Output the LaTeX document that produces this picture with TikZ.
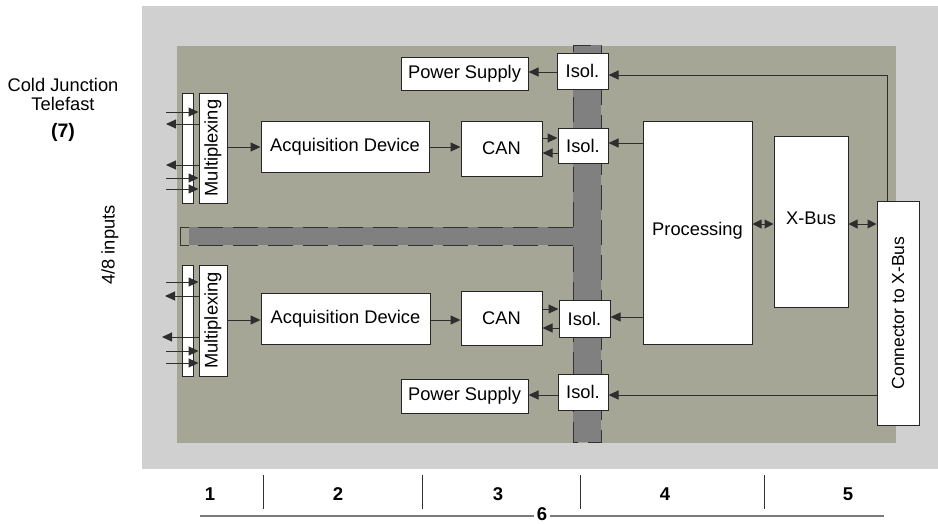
\documentclass[tikz,border=0pt]{standalone}
\usepackage{fontspec}
\setmainfont{Liberation Sans}
\usepackage{graphicx}
\usetikzlibrary{arrows.meta}
\definecolor{outerbg}{HTML}{D0D0D0}
\definecolor{innerbg}{HTML}{A6A697}
\definecolor{barrier}{HTML}{808080}
\definecolor{wire}{HTML}{2E2E2E}
\definecolor{rulegray}{HTML}{7A7A7A}
\begin{document}
\begin{tikzpicture}[x=1pt,y={(0pt,-1pt)},
  font=\fontsize{18.3pt}{21pt}\selectfont,
  blk/.style={draw=black!85,line width=1pt,fill=white,inner sep=0pt,align=center},
  wsz/.style 2 args={minimum width=#1pt,minimum height=#2pt},
  arr/.style={draw=wire,line width=1pt,-{Triangle[length=10pt,width=9pt]}},
  darr/.style={draw=wire,line width=1pt,{Triangle[length=9pt,width=9pt]}-{Triangle[length=9pt,width=9pt]}},
  barrierline/.style={draw=black!80,line width=1pt,dash pattern=on 25pt off 10pt},
  num/.style={font=\bfseries\fontsize{18.5pt}{21pt}\selectfont,inner sep=1pt},
  sepline/.style={draw=black!80,line width=1pt}]

\useasboundingbox (0,0) rectangle (938,523);
\fill[white] (0,0) rectangle (938,523);
\fill[outerbg] (142,6) rectangle (938,469);
\fill[innerbg] (177,46) rectangle (896,443);

% isolation barrier
\fill[barrier] (189,227) rectangle (573,245);
\fill[barrier] (573,45) rectangle (601,442);
\draw[barrierline] (573,227) -- (189,227);
\draw[barrierline] (573,245) -- (189,245);
\draw[black!80,line width=1pt] (189,227) -- (180,227) -- (180,245) -- (189,245);
\draw[barrierline] (573,227) -- (573,45) -- (601,45) -- (601,442) -- (573,442) -- (573,245);

% left texts
\node (cj) at (63,85) {Cold Junction};
\node (tf) at (63,104) {Telefast};
\node[font=\bfseries\fontsize{19.5pt}{22pt}\selectfont] (seven) at (63,132) {(7)};
\node[rotate=90] (inp) at (110,245) {4/8 inputs};

% blocks
\node[blk,wsz={11}{110}] (stripT) at (187.5,148) {};
\node[blk,wsz={28}{110}] (muxT) at (213,148) {\rotatebox{90}{Multiplexing}};
\node[blk,wsz={11}{111}] (stripB) at (187.5,320.5) {};
\node[blk,wsz={28}{111}] (muxB) at (213,320.5) {\rotatebox{90}{Multiplexing}};

\node[blk,wsz={168}{51}] (acqT) at (345,146.5) {Acquisition Device};
\node[blk,wsz={169}{51}] (acqB) at (345.5,318.5) {Acquisition Device};
\node[blk,wsz={81}{55}] (canT) at (501.5,148.5) {CAN};
\node[blk,wsz={81}{54}] (canB) at (501.5,318) {CAN};

\node[blk,wsz={127}{33}] (psT) at (464.5,73.5) {Power Supply};
\node[blk,wsz={127}{34}] (psB) at (464.5,396) {Power Supply};
\node[blk,wsz={51}{36}] (isoPT) at (582.5,71) {Isol.};
\node[blk,wsz={50}{35}] (isoCT) at (583,145.5) {Isol.};
\node[blk,wsz={51}{37}] (isoCB) at (584.5,318.5) {Isol.};
\node[blk,wsz={50}{36}] (isoPB) at (583,392) {Isol.};

\node[blk,wsz={109}{223}] (proc) at (697.5,232.5) {\raisebox{7pt}{Processing}};
\node[blk,wsz={74}{171}] (xbus) at (811,221.5) {\raisebox{6pt}{X-Bus}};
\node[blk,wsz={42}{224}] (conn) at (898,313) {\rotatebox{90}{\fontsize{17.5pt}{21pt}\selectfont Connector to X-Bus}};

% input coordinates
\coordinate (iT1) at (166,112);
\coordinate (oT1) at (166,124);
\coordinate (oT2) at (166,165);
\coordinate (iT2) at (166,178);
\coordinate (iT3) at (166,189);
\coordinate (iB1) at (166,282);
\coordinate (oB1) at (165,296);
\coordinate (oB2) at (162,337);
\coordinate (iB2) at (166,351);
\coordinate (iB3) at (166,363);

\draw[arr] (iT1) -- (muxT.west |- iT1);
\draw[arr] (muxT.west |- oT1) -- (oT1);
\draw[arr] (muxT.west |- oT2) -- (oT2);
\draw[arr] (iT2) -- (muxT.west |- iT2);
\draw[arr] (iT3) -- (muxT.west |- iT3);
\draw[arr] (iB1) -- (muxB.west |- iB1);
\draw[arr] (muxB.west |- oB1) -- (oB1);
\draw[arr] (muxB.west |- oB2) -- (oB2);
\draw[arr] (iB2) -- (muxB.west |- iB2);
\draw[arr] (iB3) -- (muxB.west |- iB3);

% signal chain
\draw[arr] (muxT.east |- 0,147) -- (acqT.west |- 0,147);
\draw[arr] (muxB.east |- 0,320) -- (acqB.west |- 0,320);
\draw[arr] (acqT.east |- 0,147) -- (canT.west |- 0,147);
\draw[arr] (acqB.east |- 0,320) -- (canB.west |- 0,320);
\draw[arr] (canT.east |- 0,138) -- (isoCT.west |- 0,138);
\draw[arr] (isoCT.west |- 0,153) -- (canT.east |- 0,153);
\draw[arr] (canB.east |- 0,309) -- (isoCB.west |- 0,309);
\draw[arr] (isoCB.west |- 0,328) -- (canB.east |- 0,328);
\draw[arr] (proc.west |- 0,143) -- (isoCT.east |- 0,143);
\draw[arr] (proc.west |- 0,317) -- (isoCB.east |- 0,317);

% power
\draw[arr] (isoPT.west |- 0,72) -- (psT.east |- 0,72);
\draw[arr] (isoPB.west |- 0,395) -- (psB.east |- 0,395);
\coordinate (cpt) at (887,75);
\draw[arr] (conn.north -| cpt) |- (isoPT.east |- cpt);
\draw[arr] (conn.west |- 0,395) -- (isoPB.east |- 0,395);

% bus
\draw[darr] (proc.east |- 0,224) -- (xbus.west |- 0,224);
\draw[darr] (xbus.east |- 0,224) -- (conn.west |- 0,224);

% bottom legend
\node[num] (n1) at (210,494) {1};
\node[num] (n2) at (338,494) {2};
\node[num] (n3) at (498,494) {3};
\node[num] (n4) at (665,494) {4};
\node[num] (n5) at (848,494) {5};
\draw[sepline] (263,475) -- (263,509);
\draw[sepline] (422,475) -- (422,509);
\draw[sepline] (580,475) -- (580,509);
\draw[sepline] (764,475) -- (764,509);
\node[num,inner sep=3pt] (n6) at (542,514) {6};
\coordinate (lineL) at (200,516);
\coordinate (lineR) at (884,516);
\draw[draw=rulegray,line width=2pt] (lineL) -- (n6.west |- lineL);
\draw[draw=rulegray,line width=2pt] (n6.east |- lineR) -- (lineR);
\end{tikzpicture}
\end{document}
